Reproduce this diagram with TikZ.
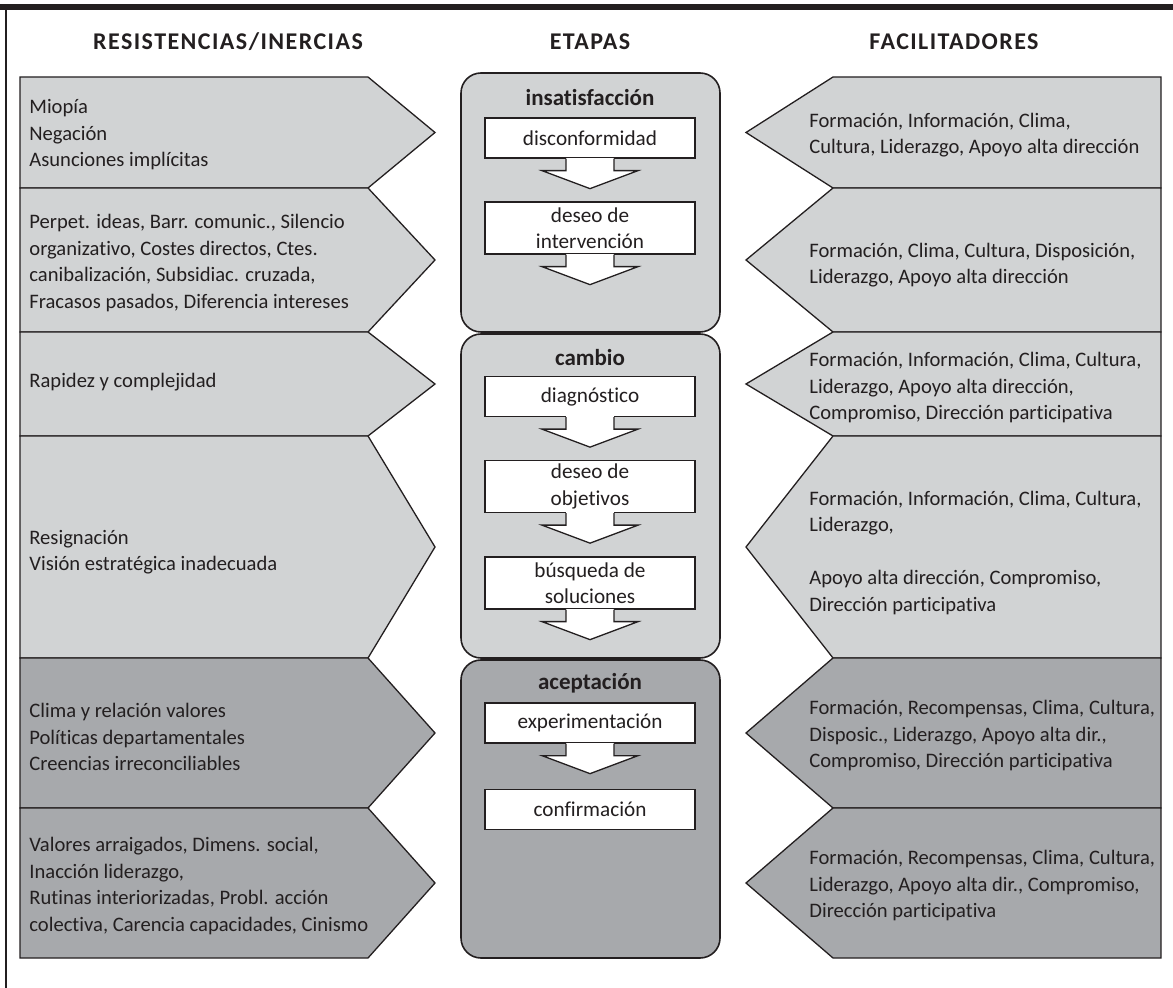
\documentclass[tikz,border=0pt]{standalone}
\usepackage{fontspec}
\setmainfont{Carlito}[Ligatures=NoCommon]
\usepackage{tikz}
\usetikzlibrary{calc}

\definecolor{inkblack}{RGB}{35,31,32}
\definecolor{lightgrey}{RGB}{209,211,212}
\definecolor{midgrey}{RGB}{167,169,172}

\begin{document}
\begin{tikzpicture}[x=0.5pt, y=-0.5pt, inkblack,
    edge/.style={draw=inkblack, line width=0.65pt, line join=miter},
    sidetext/.style={anchor=west, align=left, inner sep=0pt, font=\fontsize{10.3}{13.25}\selectfont},
    header/.style={anchor=base, font=\fontsize{12}{14}\selectfont\bfseries\addfontfeature{LetterSpace=6}},
    stagebox/.style={draw=inkblack, line width=0.8pt, rounded corners=10pt},
    stagetitle/.style={font=\fontsize{11.5}{14}\selectfont\bfseries},
    stepbox/.style={edge, fill=white, inner sep=0pt, minimum width=105pt, minimum height=20pt, align=center, font=\fontsize{10.6}{13.25}\selectfont}]

    \useasboundingbox (0,0) rectangle (1173,988);

    % Frame
    \fill (0,4) rectangle (1173,10);
    \draw[line width=0.75pt] (6,10) -- (6,988);

    % Headers
    \node[header] (hres) at (228,50) {RESISTENCIAS/INERCIAS};
    \node[header] (heta) at (590,50) {ETAPAS};
    \node[header] (hfac) at (954,50) {FACILITADORES};

    % Resistencias: chevrons pointing right
    \draw[edge, fill=lightgrey] (20,77) -- (368,77) -- (435,132.5) -- (368,188) -- (20,188) -- cycle;
    \draw[edge, fill=lightgrey] (20,188) -- (368,188) -- (435,260) -- (368,332) -- (20,332) -- cycle;
    \draw[edge, fill=lightgrey] (20,332) -- (368,332) -- (435,384) -- (368,436) -- (20,436) -- cycle;
    \draw[edge, fill=lightgrey] (20,436) -- (368,436) -- (435,547) -- (368,658) -- (20,658) -- cycle;
    \draw[edge, fill=midgrey] (20,658) -- (368,658) -- (435,733) -- (368,808) -- (20,808) -- cycle;
    \draw[edge, fill=midgrey] (20,808) -- (368,808) -- (435,883) -- (368,958) -- (20,958) -- cycle;

    \node[sidetext] (res1) at (29,135) {Miopía\\Negación\\Asunciones implícitas};
    \node[sidetext] (res2) at (29,263) {Perpet. ideas, Barr. comunic., Silencio\\organizativo, Costes directos, Ctes.\\canibalización, Subsidiac. cruzada,\\Fracasos pasados, Diferencia intereses};
    \node[sidetext] (res3) at (29,382) {Rapidez y complejidad};
    \node[sidetext] (res4) at (29,552) {Resignación\\Visión estratégica inadecuada};
    \node[sidetext] (res5) at (29,737) {Clima y relación valores\\Políticas departamentales\\Creencias irreconciliables};
    \node[sidetext] (res6) at (29,886) {Valores arraigados, Dimens. social,\\Inacción liderazgo,\\Rutinas interiorizadas, Probl. acción\\colectiva, Carencia capacidades, Cinismo};

    % Facilitadores: chevrons pointing left
    \draw[edge, fill=lightgrey] (1161,77) -- (833,77) -- (746,132.5) -- (833,188) -- (1161,188) -- cycle;
    \draw[edge, fill=lightgrey] (1161,188) -- (833,188) -- (746,260) -- (833,332) -- (1161,332) -- cycle;
    \draw[edge, fill=lightgrey] (1161,332) -- (833,332) -- (746,384) -- (833,436) -- (1161,436) -- cycle;
    \draw[edge, fill=lightgrey] (1161,436) -- (833,436) -- (746,547) -- (833,658) -- (1161,658) -- cycle;
    \draw[edge, fill=midgrey] (1161,658) -- (833,658) -- (746,733) -- (833,808) -- (1161,808) -- cycle;
    \draw[edge, fill=midgrey] (1161,808) -- (833,808) -- (746,883) -- (833,958) -- (1161,958) -- cycle;

    \node[sidetext] (fac1) at (809,135) {Formación, Información, Clima,\\Cultura, Liderazgo, Apoyo alta dirección};
    \node[sidetext] (fac2) at (809,265) {Formación, Clima, Cultura, Disposición,\\Liderazgo, Apoyo alta dirección};
    \node[sidetext] (fac3) at (809,388) {Formación, Información, Clima, Cultura,\\Liderazgo, Apoyo alta dirección,\\Compromiso, Dirección participativa};
    \node[sidetext] (fac4) at (809,553) {Formación, Información, Clima, Cultura,\\Liderazgo,\\[13.25pt]Apoyo alta dirección, Compromiso,\\Dirección participativa};
    \node[sidetext] (fac5) at (809,736) {Formación, Recompensas, Clima, Cultura,\\Disposic., Liderazgo, Apoyo alta dir.,\\Compromiso, Dirección participativa};
    \node[sidetext] (fac6) at (809,886) {Formación, Recompensas, Clima, Cultura,\\Liderazgo, Apoyo alta dir., Compromiso,\\Dirección participativa};

    % Etapas
    \draw[stagebox, fill=lightgrey] (461,73) rectangle (720,332);
    \draw[stagebox, fill=lightgrey] (461,334) rectangle (720,658);
    \draw[stagebox, fill=midgrey] (461,660) rectangle (720,958);

    \node[stagetitle] (insat) at (590,98) {insatisfacción};
    \node[stepbox] (disc) at (590,138) {disconformidad};
    \node[stepbox, minimum height=26pt] (inter) at (590,228) {deseo de\\intervención};

    \node[stagetitle] (camb) at (590,358) {cambio};
    \node[stepbox] (diag) at (590,396.5) {diagnóstico};
    \node[stepbox, minimum height=26pt] (obj) at (590,486.5) {deseo de\\objetivos};
    \node[stepbox, minimum height=26pt] (sol) at (590,583) {búsqueda de\\soluciones};

    \node[stagetitle] (acep) at (590,683) {aceptación};
    \node[stepbox] (expe) at (590,723) {experimentación};
    \node[stepbox] (conf) at (590,809.5) {confirmación};

    % Block arrows under the steps
    \fill[white] ($(disc.south)+(-24,-1)$) rectangle ($(disc.south)+(24,12)$);
    \draw[edge, fill=white] ($(disc.south)+(-24,0)$) -- ++(0,12) -- ++(-24,0) -- ++(48,18) -- ++(48,-18) -- ++(-24,0) -- ++(0,-12);
    \fill[white] ($(inter.south)+(-24,-1)$) rectangle ($(inter.south)+(24,12)$);
    \draw[edge, fill=white] ($(inter.south)+(-24,0)$) -- ++(0,12) -- ++(-24,0) -- ++(48,18) -- ++(48,-18) -- ++(-24,0) -- ++(0,-12);
    \fill[white] ($(diag.south)+(-24,-1)$) rectangle ($(diag.south)+(24,12)$);
    \draw[edge, fill=white] ($(diag.south)+(-24,0)$) -- ++(0,12) -- ++(-24,0) -- ++(48,18) -- ++(48,-18) -- ++(-24,0) -- ++(0,-12);
    \fill[white] ($(obj.south)+(-24,-1)$) rectangle ($(obj.south)+(24,12)$);
    \draw[edge, fill=white] ($(obj.south)+(-24,0)$) -- ++(0,12) -- ++(-24,0) -- ++(48,18) -- ++(48,-18) -- ++(-24,0) -- ++(0,-12);
    \fill[white] ($(sol.south)+(-24,-1)$) rectangle ($(sol.south)+(24,12)$);
    \draw[edge, fill=white] ($(sol.south)+(-24,0)$) -- ++(0,12) -- ++(-24,0) -- ++(48,18) -- ++(48,-18) -- ++(-24,0) -- ++(0,-12);
    \fill[white] ($(expe.south)+(-24,-1)$) rectangle ($(expe.south)+(24,12)$);
    \draw[edge, fill=white] ($(expe.south)+(-24,0)$) -- ++(0,12) -- ++(-24,0) -- ++(48,18) -- ++(48,-18) -- ++(-24,0) -- ++(0,-12);

\end{tikzpicture}
\end{document}
